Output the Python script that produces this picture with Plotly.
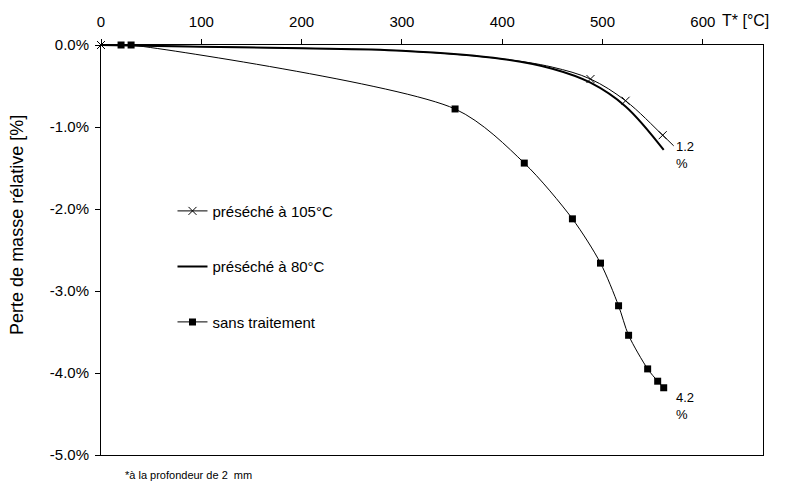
import plotly.graph_objects as go

# ---- data ----
t_105 = [0, 100, 200, 300, 400, 450, 488, 523, 560, 571]
y_105 = [0, -0.02, -0.04, -0.07, -0.17, -0.27, -0.415, -0.68, -1.10, -1.23]
t_105_marks = [0, 488, 523, 560]
y_105_marks = [0, -0.415, -0.68, -1.10]

t_80 = [0, 100, 200, 300, 400, 450, 488, 523, 561]
y_80 = [0, -0.02, -0.04, -0.07, -0.17, -0.29, -0.46, -0.75, -1.28]

t_sans = [20, 30, 353, 422, 470, 498, 516, 526, 545, 555, 561]
y_sans = [0, 0, -0.78, -1.44, -2.12, -2.66, -3.18, -3.54, -3.95, -4.10, -4.18]

series_names = ["préséché à 105°C", "préséché à 80°C", "sans traitement"]
end_labels = ["1.2<br>%", "4.2<br>%"]
x_ticks = [0, 100, 200, 300, 400, 500, 600]
y_ticks = [0, -1, -2, -3, -4, -5]
y_ticktext = ["0.0%", "-1.0%", "-2.0%", "-3.0%", "-4.0%", "-5.0%"]

FONT = "Liberation Sans, Arial, sans-serif"

fig = go.Figure()

# 105 °C : line + x markers
fig.add_trace(go.Scatter(
    x=t_105, y=y_105, mode="lines", line=dict(color="black", width=1, shape="spline"),
    name=series_names[0], legendgroup="a", showlegend=False, hoverinfo="skip"))
fig.add_trace(go.Scatter(
    x=t_105_marks, y=y_105_marks, mode="markers", cliponaxis=False,
    marker=dict(symbol="x-thin", size=8, color="black", line=dict(color="black", width=1)),
    name=series_names[0], legendgroup="a", showlegend=False))
# legend entry for 105
fig.add_trace(go.Scatter(
    x=[None], y=[None], mode="lines+markers",
    line=dict(color="black", width=1),
    marker=dict(symbol="x-thin", size=8, color="black", line=dict(color="black", width=1)),
    name=series_names[0], legendgroup="a", showlegend=True))

# 80 °C : thick line
fig.add_trace(go.Scatter(
    x=t_80, y=y_80, mode="lines", line=dict(color="black", width=2, shape="spline"),
    name=series_names[1], legendgroup="b"))

# sans traitement : squares
fig.add_trace(go.Scatter(
    x=t_sans, y=y_sans, mode="lines+markers", cliponaxis=False,
    line=dict(color="black", width=1, shape="spline", smoothing=0.8),
    marker=dict(symbol="square", size=7, color="black"),
    name=series_names[2], legendgroup="c"))

# page has an 8px body margin -> figure shifted; compensate
fig.update_layout(
    width=784, height=473,
    margin=dict(l=93, r=29, t=37, b=26),
    paper_bgcolor="white", plot_bgcolor="white",
    font=dict(family=FONT, size=15, color="black"),
    showlegend=True,
    legend=dict(x=0.108, y=0.635, xanchor="left", yanchor="top",
                bgcolor="rgba(0,0,0,0)", tracegroupgap=33,
                traceorder="grouped", font=dict(size=15)),
    xaxis=dict(range=[0, 660], side="top", tickvals=x_ticks, showline=True,
               linecolor="black", linewidth=1, mirror=True, ticks="outside",
               ticklen=5, tickcolor="black", showgrid=False, zeroline=False,
               ticklabelstandoff=6, automargin=False, tickfont=dict(size=15)),
    yaxis=dict(range=[-5, 0], tickvals=y_ticks, ticktext=y_ticktext,
               showline=True, linecolor="black", linewidth=1, mirror=True,
               ticks="outside", ticklen=5, tickcolor="black", showgrid=False,
               zeroline=False, ticklabelstandoff=3, automargin=False,
               tickfont=dict(size=15)),
)

fig.add_annotation(text="T* [°C]", xref="paper", yref="paper", x=0.935, y=1.0,
                   xanchor="left", yanchor="bottom", yshift=14, showarrow=False,
                   font=dict(size=16))
fig.add_annotation(text="Perte de masse rélative [%]", xref="paper", yref="paper",
                   x=-0.127, y=0.561, textangle=-90, showarrow=False,
                   xanchor="center", yanchor="middle", font=dict(size=18))
fig.add_annotation(text=end_labels[0], x=571, y=-1.12, xanchor="left", yanchor="top",
                   showarrow=False, font=dict(size=13), align="left")
fig.add_annotation(text=end_labels[1], x=571, y=-4.18, xanchor="left", yanchor="top",
                   showarrow=False, font=dict(size=13), align="left")
fig.add_annotation(text="*à la profondeur de 2\u00a0\u00a0mm", xref="paper", yref="paper",
                   x=0.033, y=0, yshift=-20, xanchor="left", yanchor="middle",
                   showarrow=False, font=dict(size=11))

fig.write_html("out.html")
